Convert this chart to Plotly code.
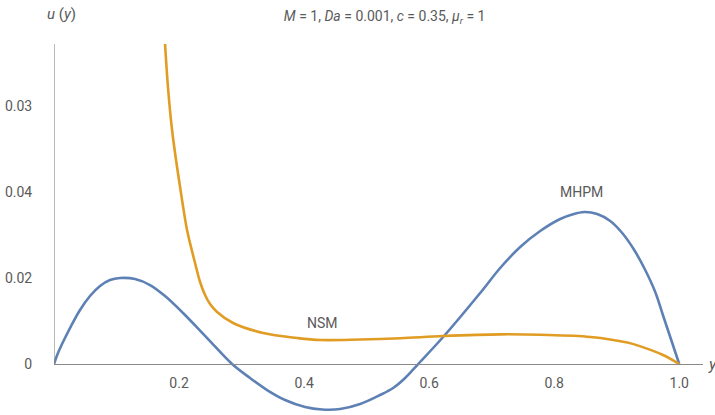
import plotly.graph_objects as go

# MHPM velocity profile u(y)
mhpm_y = [0, 0.0064, 0.0144, 0.0256, 0.0416, 0.0576, 0.0736, 0.0896, 0.1056, 0.1296,
          0.1536, 0.1776, 0.2064, 0.2464, 0.2848, 0.3136, 0.3408, 0.3696, 0.4016,
          0.4288, 0.4576, 0.4896, 0.5216, 0.5424, 0.5616, 0.5824, 0.6224, 0.6816,
          0.7136, 0.7456, 0.7776, 0.8096, 0.8288, 0.848, 0.8688, 0.8896, 0.9088,
          0.928, 0.9456, 0.9616, 0.9744, 0.9872, 1.0]
mhpm_u = [0, 0.00256, 0.00512, 0.00837, 0.01256, 0.01581, 0.01814, 0.01953, 0.02000,
          0.01977, 0.01837, 0.01581, 0.01186, 0.00581, 0, -0.00326, -0.00605, -0.00837,
          -0.01000, -0.01058, -0.01047, -0.00930, -0.00721, -0.00558, -0.00326, 0,
          0.00628, 0.01651, 0.02233, 0.02721, 0.03093, 0.03372, 0.03477, 0.03535,
          0.03488, 0.03326, 0.03047, 0.02651, 0.02186, 0.01674, 0.01116, 0.00558, 0]

# NSM velocity profile u(y)
nsm_y = [0.1776, 0.1824, 0.1888, 0.1968, 0.2048, 0.2128, 0.2256, 0.2336, 0.2416, 0.2496,
         0.2608, 0.2864, 0.3344, 0.3888, 0.4256, 0.49, 0.554, 0.622, 0.714, 0.778, 0.858,
         0.917, 0.938, 0.974, 1.0]
nsm_u = [0.07442, 0.06419, 0.05442, 0.04581, 0.03814, 0.03116, 0.02349, 0.01907, 0.01605,
         0.01395, 0.01209, 0.00953, 0.00721, 0.00605, 0.00558, 0.0057, 0.0060, 0.0065,
         0.0069, 0.0068, 0.0063, 0.0050, 0.0041, 0.0021, 0]

x_ticks = [0.2, 0.4, 0.6, 0.8, 1.0]
x_tick_text = ["0.2", "0.4", "0.6", "0.8", "1.0"]
y_ticks = [0, 0.02, 0.04, 0.06]
y_tick_text = ["0", "0.02", "0.04", "0.03"]

FONT = "Roboto, sans-serif"
GREY = "#5a5a5a"
AXIS = "#8a8a8a"
BLUE = "#5E81B5"
ORANGE = "#E19C24"

y_min, y_max = -0.01116, 0.07442
x_min, x_max = 0.0, 1.038

fig = go.Figure()
fig.add_trace(go.Scatter(x=mhpm_y, y=mhpm_u, mode="lines", name="MHPM",
                         line=dict(color=BLUE, width=2.6, shape="spline", smoothing=1.0)))
fig.add_trace(go.Scatter(x=nsm_y, y=nsm_u, mode="lines", name="NSM",
                         line=dict(color=ORANGE, width=2.6, shape="spline", smoothing=1.0)))

# vertical axis line drawn from u = 0 upward
fig.add_shape(type="line", xref="x", yref="y", x0=0, x1=0, y0=0, y1=y_max,
              line=dict(color=AXIS, width=1.2))

fig.update_layout(
    width=715, height=415,
    margin=dict(l=54, r=12, t=44, b=3),
    paper_bgcolor="white", plot_bgcolor="white",
    showlegend=False,
    font=dict(family=FONT, color=GREY, size=14),
    title=dict(text="<i>M</i> = 1, <i>Da</i> = 0.001, <i>c</i> = 0.35, <i>μ<sub>r</sub></i> = 1",
               x=0.538, xanchor="center", y=0.962, yanchor="middle",
               font=dict(family=FONT, color=GREY, size=14)),
    xaxis=dict(range=[x_min, x_max], showgrid=False, zeroline=False,
               showline=True, linecolor=AXIS, linewidth=1.2,
               anchor="free", position=(0 - y_min) / (y_max - y_min),
               tickvals=x_ticks, ticktext=x_tick_text,
               ticks="outside", ticklen=6, tickcolor="rgba(0,0,0,0)",
               tickfont=dict(family=FONT, color=GREY, size=14)),
    yaxis=dict(range=[y_min, y_max], showgrid=False, zeroline=False, showline=False,
               tickvals=y_ticks, ticktext=y_tick_text,
               ticks="outside", ticklen=18, tickcolor="rgba(0,0,0,0)",
               tickfont=dict(family=FONT, color=GREY, size=14)),
    annotations=[
        dict(text="<i>u</i> (<i>y</i>)", xref="paper", yref="paper", x=0, y=1,
             xshift=7, yshift=30, showarrow=False, xanchor="center", yanchor="middle",
             font=dict(family=FONT, color=GREY, size=15)),
        dict(text="<i>y</i>", xref="paper", yref="y", x=1, y=0, xshift=3,
             showarrow=False, xanchor="left", yanchor="middle",
             font=dict(family=FONT, color=GREY, size=16)),
        dict(text="NSM", xref="x", yref="y", x=0.43, y=0.0095, showarrow=False,
             font=dict(family=FONT, color=GREY, size=14)),
        dict(text="MHPM", xref="x", yref="y", x=0.843, y=0.0400, showarrow=False,
             font=dict(family=FONT, color=GREY, size=14)),
    ],
)

fig.write_html("out.html")
